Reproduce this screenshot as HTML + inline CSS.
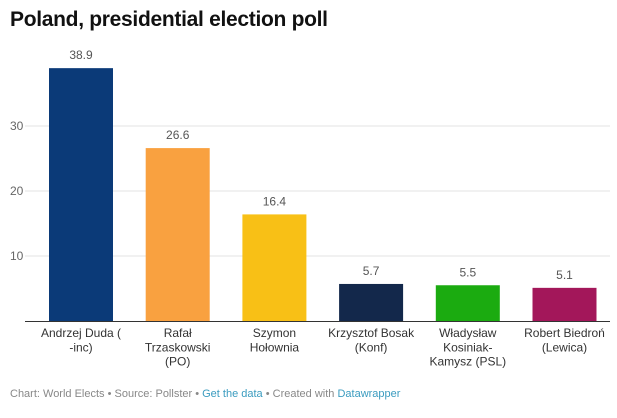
<!DOCTYPE html>
<html><head><meta charset="utf-8">
<style>
body{margin:0;background:#fff;font-family:"Liberation Sans",sans-serif;}
#wrap{position:relative;width:617px;height:418px;overflow:hidden;}
h1{position:absolute;left:10px;top:8px;margin:0;font-size:21px;font-weight:bold;color:#111;letter-spacing:-0.3px;}
#foot{position:absolute;left:10px;top:388px;font-size:11px;color:#888;}
#foot a{color:#3a9bbf;text-decoration:none;}
</style></head><body>
<div id="wrap">
<h1>Poland, presidential election poll</h1>
<svg id="chart" width="617" height="380" style="position:absolute;left:0;top:0"></svg>
<div id="foot">Chart: World Elects • Source: Pollster • <a>Get the data</a> • Created with <a>Datawrapper</a></div>
</div>
<script>
const categories=[["Andrzej Duda (","-inc)"],["Rafał","Trzaskowski","(PO)"],["Szymon","Hołownia"],["Krzysztof Bosak","(Konf)"],["Władysław","Kosiniak-","Kamysz (PSL)"],["Robert Biedroń","(Lewica)"]];
const values=[38.9,26.6,16.4,5.7,5.5,5.1];
const colors=["#0b3a78","#f9a140","#f8c016","#13284b","#1bab10","#a3175a"];
const ticks=[10,20,30];
const NS="http://www.w3.org/2000/svg";
const svg=document.getElementById('chart');
const y0=321,pxPer=6.5;
const y=v=>y0-v*pxPer;
const x=i=>49+i*96.7;
const bw=64;
function mk(t,a){const e=document.createElementNS(NS,t);for(const k in a)e.setAttribute(k,a[k]);svg.appendChild(e);return e;}
ticks.forEach(t=>{
 const g=mk('line',{x1:25,x2:610,y1:y(t),y2:y(t),stroke:'#e3e3e3','stroke-width':1});
 
 
 const l=mk('text',{x:10,y:y(t)+4,'font-size':12,fill:'#666'});
 l.textContent=t;
 
 
});
values.forEach((v,i)=>{
 const r=mk('rect',{x:x(i),y:y(v),width:bw,height:v*pxPer,fill:colors[i]});
 
 
 const t=mk('text',{x:x(i)+bw/2,y:y(v)-9,'font-size':12,fill:'#555','text-anchor':'middle'});
 t.textContent=v.toFixed(1);
 
 
 categories[i].forEach((s,j)=>{
  const c=mk('text',{x:x(i)+bw/2,y:337+j*14.3,'font-size':12,fill:'#333','text-anchor':'middle'});
  c.textContent=s;
  
  
 });
});
const ax=mk('line',{x1:25,x2:610,y1:y0+0.5,y2:y0+0.5,stroke:'#333','stroke-width':1});


</script>
</body></html>
